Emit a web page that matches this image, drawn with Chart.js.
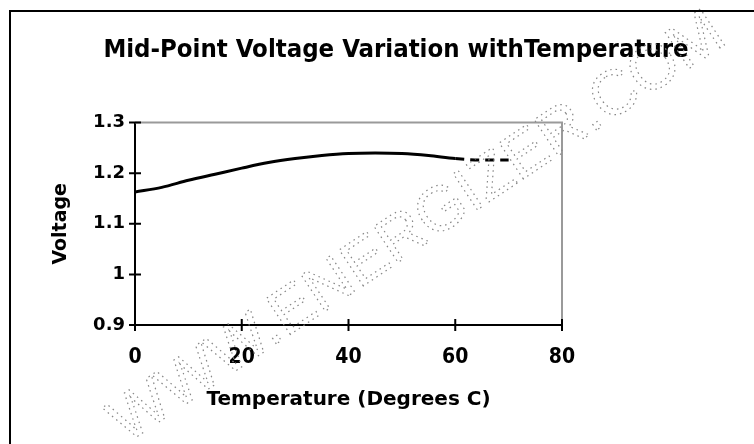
<!DOCTYPE html>
<html>
<head>
<meta charset="utf-8">
<script src="https://cdn.jsdelivr.net/npm/chart.js@4.4.1/dist/chart.umd.min.js"></script>
<style>
  html, body { margin: 0; padding: 0; background: #fff; overflow: hidden; }
  #wrap { position: relative; width: 754px; height: 444px; overflow: hidden; }
  #frame { position: absolute; left: 9px; top: 10px; width: 780px; height: 480px;
           border-top: 2px solid #000; border-left: 2px solid #000; pointer-events: none; }
  canvas { position: absolute; left: 0; top: 0; }
</style>
</head>
<body>
<div id="wrap">
  <canvas id="lineChart" width="754" height="444"></canvas>
  <div id="frame"></div>
</div>
<script>
var temps = [0, 5, 10, 15, 20, 25, 30, 35, 40, 45, 50, 55, 60, 65, 70];
var voltages = [1.163, 1.172, 1.186, 1.198, 1.210, 1.221, 1.229, 1.235, 1.239, 1.240, 1.239, 1.235, 1.229, 1.226, 1.226];
var xTicks = [0, 20, 40, 60, 80];
var yTicks = [0.9, 1, 1.1, 1.2, 1.3];
var titleText = "Mid-Point Voltage Variation withTemperature";
var xTitle = "Temperature (Degrees C)";
var yTitle = "Voltage";
var watermark = "WWW.ENERGIZER.COM";

var points = temps.map(function (t, i) { return { x: t, y: voltages[i] }; });

var arial = "'Liberation Sans', Arial, sans-serif";
var wide = "'DejaVu Sans', Verdana, sans-serif";
var narrow = "'Liberation Sans Narrow', 'DejaVu Sans Condensed', sans-serif";

// crossing tick marks, grey top/right border, dotted watermark
var extras = {
    id: "extras",
    beforeDatasetsDraw: function (chart) {
        var ctx = chart.ctx, a = chart.chartArea;
        ctx.save();
        ctx.strokeStyle = "#9a9a9a";
        ctx.lineWidth = 2;
        ctx.beginPath();
        ctx.moveTo(a.left, a.top);
        ctx.lineTo(a.right, a.top);
        ctx.lineTo(a.right, a.bottom);
        ctx.stroke();
        ctx.strokeStyle = "#000";
        ctx.beginPath();
        var xs = chart.scales.x, ys = chart.scales.y;
        xs.ticks.forEach(function (t) {
            var px = xs.getPixelForValue(t.value);
            ctx.moveTo(px, a.bottom - 6);
            ctx.lineTo(px, a.bottom + 6);
        });
        ys.ticks.forEach(function (t) {
            var py = ys.getPixelForValue(t.value);
            ctx.moveTo(a.left - 6, py);
            ctx.lineTo(a.left + 6, py);
        });
        ctx.stroke();
        ctx.restore();
    },
    afterDraw: function (chart) {
        var ctx = chart.ctx;
        ctx.save();
        ctx.translate(126, 444);
        ctx.rotate(-33.7 * Math.PI / 180);
        ctx.font = "63px " + arial;
        ctx.setLineDash([1.5, 4]);
        ctx.strokeStyle = "#888";
        ctx.lineWidth = 1.2;
        ctx.strokeText(watermark, 0, 0);
        ctx.restore();
    }
};

var lineChartCanvas = document.getElementById("lineChart").getContext("2d");
var lineChart = new Chart(lineChartCanvas, {
    type: "line",
    data: {
        datasets: [{
            label: "Voltage",
            data: points,
            borderColor: "#000",
            borderWidth: 3,
            pointRadius: 0,
            cubicInterpolationMode: "monotone",
            fill: false,
            segment: {
                borderDash: function (c) { return c.p0.parsed.x >= 60 ? [9, 6] : undefined; }
            }
        }]
    },
    options: {
        responsive: false,
        animation: false,
        layout: { padding: { left: 38, right: 0, top: 0, bottom: 0 } },
        plugins: {
            legend: { display: false },
            tooltip: { enabled: false },
            title: {
                display: true,
                text: titleText,
                color: "#000",
                font: { family: narrow, size: 25.5, weight: "bold" },
                padding: { top: 35, bottom: 57 }
            }
        },
        scales: {
            x: {
                type: "linear",
                min: 0,
                max: 80,
                afterBuildTicks: function (s) { s.ticks = xTicks.map(function (v) { return { value: v }; }); },
                afterFit: function (s) { s.height = 119; },
                grid: { display: false, drawTicks: false },
                border: { display: true, color: "#000", width: 2 },
                ticks: { color: "#000", padding: 20, font: { family: narrow, size: 21, weight: "bold" } },
                title: { display: true, text: xTitle, color: "#000", padding: { top: 0, bottom: 32 },
                         font: { family: wide, size: 20, weight: "bold" } }
            },
            y: {
                min: 0.9,
                max: 1.3,
                afterBuildTicks: function (s) { s.ticks = yTicks.map(function (v) { return { value: v }; }); },
                afterFit: function (s) { s.width = 97; },
                grid: { display: false, drawTicks: false },
                border: { display: true, color: "#000", width: 2 },
                ticks: { color: "#000", padding: 10, font: { family: wide, size: 18, weight: "bold" },
                         callback: function (v) { return String(v); } },
                title: { display: true, text: yTitle, color: "#000", padding: { top: 12, bottom: 0 },
                         font: { family: wide, size: 19, weight: "bold" } }
            },
            y2: {
                type: "linear",
                position: "right",
                display: true,
                afterFit: function (s) { s.width = 192; },
                grid: { display: false, drawTicks: false },
                border: { display: false },
                ticks: { display: false }
            }
        }
    },
    plugins: [extras]
});
</script>
</body>
</html>
